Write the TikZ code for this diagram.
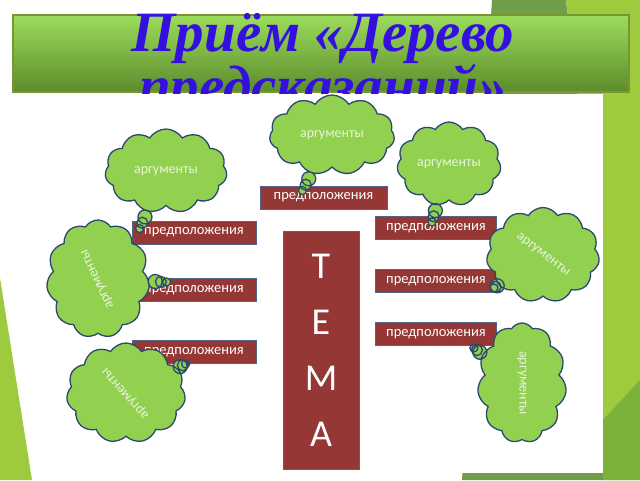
\documentclass[tikz,border=0pt]{standalone}
\usepackage{fontspec}
\setmainfont{Liberation Serif}
\newfontfamily\carlito{Carlito}
\usepackage{xcolor}
\usetikzlibrary{shapes.callouts,shapes.symbols,calc}
\definecolor{boxred}{RGB}{149,55,53}
\definecolor{boxline}{RGB}{82,100,140}
\definecolor{cloudfill}{RGB}{146,208,80}
\definecolor{cloudline}{RGB}{44,72,112}
\definecolor{cloudtext}{RGB}{232,244,220}
\definecolor{titletop}{RGB}{156,220,92}
\definecolor{titlebot}{RGB}{92,140,44}
\definecolor{titleline}{RGB}{120,150,50}
\definecolor{titleblue}{RGB}{52,16,224}
\definecolor{facetlight}{RGB}{158,202,62}
\definecolor{facetdark}{RGB}{111,158,75}
\definecolor{facetmid}{RGB}{125,178,58}
\begin{document}
\begin{tikzpicture}[x=1pt, y=-1pt,
  predbox/.style={draw=boxline, fill=boxred, text=white, line width=0.8pt, inner sep=0pt, minimum width=124pt, minimum height=23pt, font=\carlito\fontsize{14.5}{16}\selectfont},
  argcloud/.style={cloud callout, cloud puffs=11, cloud puff arc=115, cloud ignores aspect, draw=cloudline, fill=cloudfill, line width=1.3pt, inner sep=0pt, text=cloudtext, font=\carlito\fontsize{14}{16}\selectfont, callout pointer segments=3, callout pointer start size=17pt, callout pointer end size=8pt}]
\useasboundingbox (0,0) rectangle (640,480);
\fill[white] (0,0) rectangle (640,480);
\fill[facetdark] (492,0) -- (566,0) -- (603,300) -- (603,480) -- (462,480) -- cycle;
\fill[facetlight] (566,0) -- (640,0) -- (640,480) -- (603,480) -- (603,300) -- cycle;
\fill[facetmid] (603,420) -- (640,380) -- (640,480) -- (603,480) -- cycle;
\fill[facetlight] (0,278) -- (32,480) -- (0,480) -- cycle;

\node[draw=titleline, line width=1.2pt, top color=titletop, bottom color=titlebot, minimum width=616pt, minimum height=77pt, inner sep=0pt] (title) at (321,53.5) {};
\node[text=titleblue, font=\fontsize{57}{47}\selectfont\bfseries\itshape, align=center, anchor=north, inner sep=0pt] (titletext) at (323,13) {Приём «Дерево\\предсказаний»};
\fill[white] (40,93.5) rectangle (603,473);

\node[predbox, minimum width=127pt] (p0) at (323.5,197.5) {предположения};
\node[predbox] (l1) at (194,232.5) {предположения};
\node[predbox] (l2) at (194,290) {предположения};
\node[predbox] (l3) at (194,352) {предположения};
\node[predbox, minimum width=121pt] (r1) at (436,228) {предположения};
\node[predbox, minimum width=121pt] (r2) at (436,281) {предположения};
\node[predbox, minimum width=121pt] (r3) at (436,334) {предположения};
\node[predbox, minimum width=76pt, minimum height=238pt, font=\carlito\fontsize{38}{56}\selectfont, align=center] (tema) at (321,350) {Т\\Е\\М\\А};

\node[argcloud, minimum width=125pt, minimum height=80pt, callout absolute pointer={($(p0.north)+(-21,5)$)}] (a0) at (332,135) {аргументы};
\node[argcloud, minimum width=122pt, minimum height=84pt, callout absolute pointer={($(l1.north west)+(8,8)$)}] (a1) at (166,171) {аргументы};
\node[argcloud, minimum width=104pt, minimum height=84pt, callout absolute pointer={($(r1.north)+(-4,6)$)}] (a2) at (449,164) {аргументы};
\node[argcloud, minimum width=113pt, minimum height=95pt, callout absolute pointer={($(r2.east)+(-3,7)$)}] (a3) at (543,255) {\rotatebox{-37}{аргументы}};
\node[argcloud, minimum width=89pt, minimum height=120pt, callout absolute pointer={($(r3.south east)+(-23,2)$)}] (a4) at (522,383) {\rotatebox{-90}{аргументы}};
\node[argcloud, minimum width=103pt, minimum height=118pt, callout absolute pointer={($(l2.west)+(35,-8)$)}] (a5) at (98,279) {\rotatebox{115}{аргументы}};
\node[argcloud, minimum width=119pt, minimum height=100pt, callout absolute pointer={($(l3.south west)+(54,0)$)}] (a6) at (126,393) {\rotatebox{132}{аргументы}};

\end{tikzpicture}
\end{document}
